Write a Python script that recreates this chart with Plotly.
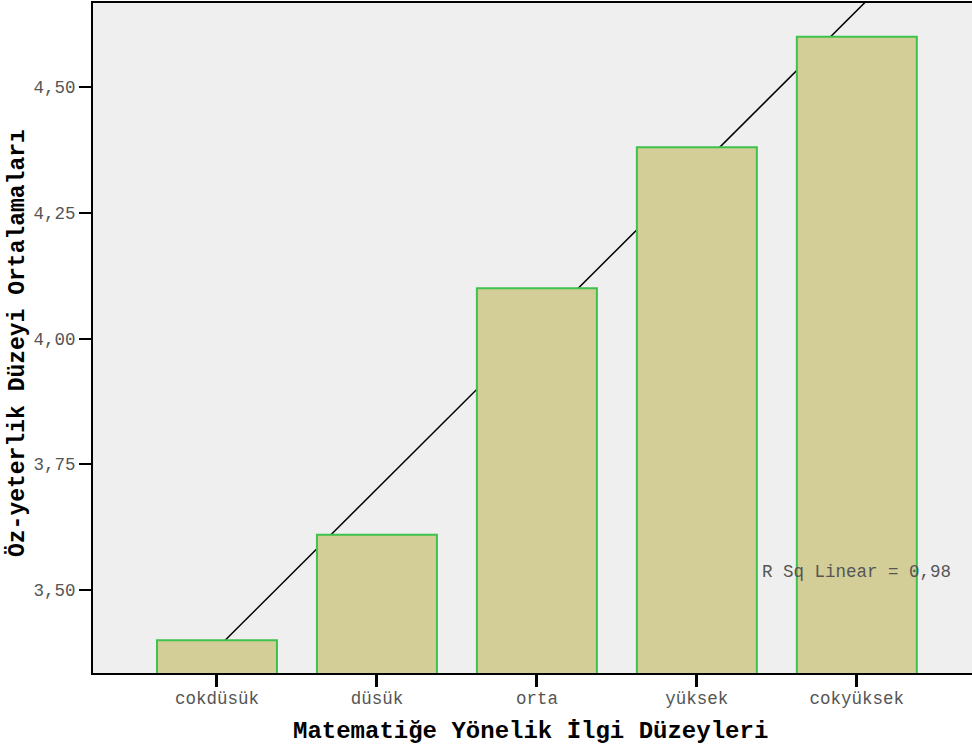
import numpy as np
import plotly.graph_objects as go

# Mean self-efficacy by level of interest in mathematics
categories = ["cokdüsük", "düsük", "orta", "yüksek", "cokyüksek"]
means = [3.40, 3.61, 4.10, 4.38, 4.60]

y_tick_vals = [3.50, 3.75, 4.00, 4.25, 4.50]
y_tick_text = ["3,50", "3,75", "4,00", "4,25", "4,50"]

x_title = "Matematiğe Yönelik İlgi Düzeyleri"
y_title = "Öz-yeterlik Düzeyi Ortalamaları"

idx = np.arange(len(categories))
x_range = [-0.775, 4.72]
y_range = [3.335, 4.667]

# Linear fit across the category positions
slope, intercept = np.polyfit(idx, means, 1)
pred = slope * idx + intercept
ss_res = np.sum((np.array(means) - pred) ** 2)
ss_tot = np.sum((np.array(means) - np.mean(means)) ** 2)
r2 = 1 - ss_res / ss_tot
fit_x = np.array(x_range)
fit_y = slope * fit_x + intercept

MONO = "Liberation Mono, Courier New, monospace"
LABEL_GREY = "#555555"

fig = go.Figure()

# Fit line on the base axes so the bars overlay it
fig.add_trace(go.Scatter(
    x=fit_x, y=fit_y, mode="lines",
    line=dict(color="black", width=1.5),
    hoverinfo="skip", showlegend=False,
    xaxis="x", yaxis="y",
))

fig.add_trace(go.Bar(
    x=idx, y=means, width=0.75,
    marker=dict(color="#d3ce98", line=dict(color="#3fc24c", width=2)),
    showlegend=False,
    xaxis="x2", yaxis="y2",
))

fig.update_layout(
    width=972, height=747,
    margin=dict(l=93, r=0, t=3, b=74),
    paper_bgcolor="white",
    plot_bgcolor="#efefef",
    font=dict(family=MONO, size=17.5, color=LABEL_GREY),
    xaxis=dict(
        range=x_range, tickmode="array", tickvals=list(idx), ticktext=categories,
        showgrid=False, zeroline=False,
        showline=True, linecolor="black", linewidth=2, mirror=True,
        ticks="outside", ticklen=12, tickwidth=3, tickcolor="black",
        tickfont=dict(family=MONO, size=17.5, color=LABEL_GREY),
        ticklabelstandoff=-4,
    ),
    yaxis=dict(
        range=y_range, tickmode="array", tickvals=y_tick_vals, ticktext=y_tick_text,
        showgrid=False, zeroline=False,
        showline=True, linecolor="black", linewidth=2,
        ticks="outside", ticklen=12, tickwidth=2, tickcolor="black",
        tickfont=dict(family=MONO, size=17.5, color=LABEL_GREY),
    ),
    xaxis2=dict(range=x_range, overlaying="x", visible=False),
    yaxis2=dict(range=y_range, overlaying="y", visible=False),
    bargap=0.25,
)

fig.add_annotation(
    x=4, y=3.536, xref="x", yref="y",
    text="R Sq Linear = " + f"{r2:.2f}".replace(".", ","),
    showarrow=False, font=dict(family=MONO, size=17.5, color=LABEL_GREY),
    xanchor="center", yanchor="middle",
)

fig.add_annotation(
    x=(530 - 93) / 879, y=0, xref="paper", yref="paper", yshift=-58,
    text="<b>" + x_title + "</b>", showarrow=False,
    font=dict(family=MONO, size=24, color="black"),
    xanchor="center", yanchor="middle",
)

fig.add_annotation(
    x=0, y=(673 - 343) / 670, xref="paper", yref="paper", xshift=-76,
    text="<b>" + y_title + "</b>", showarrow=False, textangle=-90,
    font=dict(family=MONO, size=23, color="black"),
    xanchor="center", yanchor="middle",
)

fig.write_html("out.html")
